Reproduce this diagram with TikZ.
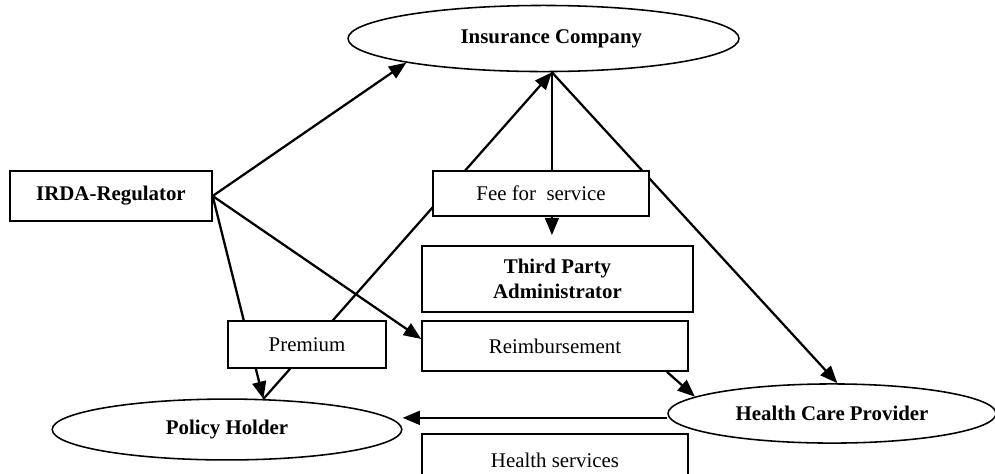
\documentclass[tikz,border=0pt]{standalone}
\usepackage{fontspec}
\setmainfont{Liberation Serif}
\usetikzlibrary{shapes.geometric, arrows.meta, backgrounds}

\begin{document}
\begin{tikzpicture}[
        x=0.575pt, y=-0.575pt,
        font=\fontsize{12}{14.4}\selectfont,
        box/.style={draw, fill=white, line width=0.9pt, inner sep=2pt},
        party/.style={ellipse, draw, fill=white, line width=0.9pt, inner sep=0pt,
            font=\fontsize{12}{14.4}\selectfont\bfseries},
        flow/.style={line width=1.3pt, -{Triangle[length=10pt, width=8pt]}}
    ]
    \useasboundingbox (0,0) rectangle (995,473);

    % Parties (ellipses)
    \node[party, minimum width=224.8pt, minimum height=38pt] (ic) at (543.5, 38.5) {\hspace{9pt}Insurance Company};
    \node[party, minimum width=201pt, minimum height=35pt] (ph) at (227, 429.5) {Policy Holder};
    \node[party, minimum width=188.6pt, minimum height=34pt] (hcp) at (832, 413.5) {Health Care Provider};

    % Regulator and TPA
    \node[box, font=\fontsize{12}{14.4}\selectfont\bfseries, minimum width=116pt, minimum height=28.8pt] (irda) at (111, 196) {IRDA-Regulator};
    \node[box, font=\fontsize{12}{14.4}\selectfont\bfseries, align=center, minimum width=155.8pt, minimum height=38pt] (tpa) at (557.5, 279) {Third Party\\Administrator};

    % Money / service labels
    \node[box, minimum width=124.2pt, minimum height=25.9pt] (fee) at (541, 193.5) {Fee for\ \ service};
    \node[box, minimum width=90.9pt, minimum height=27pt] (premium) at (307, 344.5) {Premium};
    \node[box, minimum width=153pt, minimum height=28.8pt] (reimb) at (555, 346) {Reimbursement};
    \node[box, minimum width=153pt, minimum height=30pt] (hs) at (555, 460) {Health services};

    % Flows, kept behind the boxes
    \begin{scope}[on background layer]
        \draw[flow] (irda.east) -- (ic.190);
        \draw[flow] (irda.east) -- (ph.40);
        \draw[flow] (irda.east) -- (reimb.177);
        \draw[flow] (ph.40) -- (ic.284);
        \draw[flow, shorten >=5.75pt] (ic.284) -- (ic.284 |- tpa.north);
        \draw[flow] (ic.284) -- (hcp.80);
        \draw[flow] (reimb.-13) -- (hcp.173);
        \draw[flow] ([yshift=-2.5pt]hcp.west) -- ([yshift=-2.5pt]hcp.west -| ph.east);
    \end{scope}
\end{tikzpicture}
\end{document}
